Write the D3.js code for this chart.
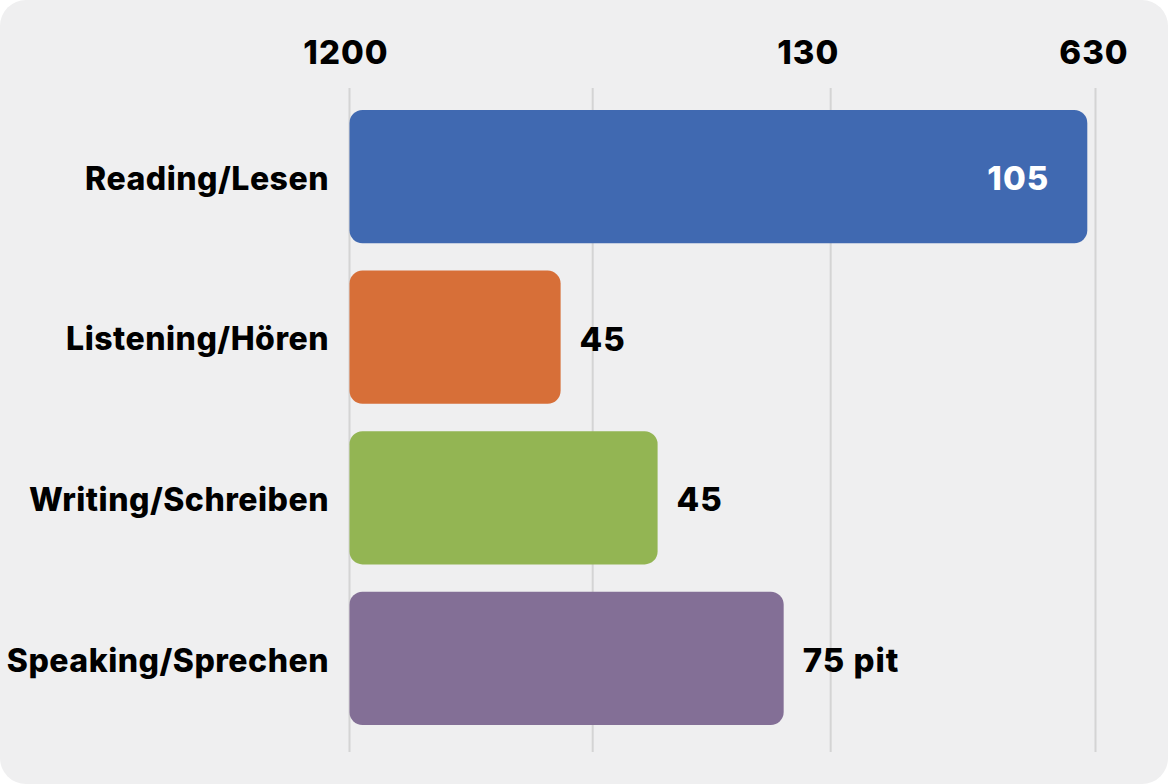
<!DOCTYPE html>
<html>
<head>
<meta charset="utf-8">
<script src="https://cdn.jsdelivr.net/npm/d3@7"></script>
<style>
  html, body { margin: 0; padding: 0; background: #fff; }
  svg { display: block; }
  text { font-family: Inter, sans-serif; font-weight: 800; fill: #000; letter-spacing: 0.5px; }
</style>
</head>
<body>
<div class="chart"></div>
<script>
const categories = ['Reading/Lesen', 'Listening/Hören', 'Writing/Schreiben', 'Speaking/Sprechen'];
// bar lengths, in percent of the axis span
const barLengths = [98.9, 28.3, 41.3, 58.2];
const barLabels  = ['105', '45', '45', '75 pit'];
const barColors  = ['#4069b1', '#d76f38', '#93b553', '#836f96'];
const tickValues = [0, 32.6, 64.5, 100];
const tickLabels = ['1200', '', '130', '630'];

const width    = 1168;
const height   = 784;
const fontSize = '32px';
const bigFont  = '33px';
// the tick labels do not sit centred over their gridlines
const tickShift = [-4, 0, -23, -2];

const svg = d3.select('.chart').append('svg')
  .attr('width', width)
  .attr('height', height);

svg.append('rect')
  .attr('width', width)
  .attr('height', height)
  .attr('rx', 26)
  .attr('fill', '#efeff0');

const x = d3.scaleLinear().domain([0, 100]).range([349.5, 1095.5]);
const y = d3.scaleBand().domain(categories).range([110, 725]).paddingInner(0.17);

const axis = svg.append('g')
  .attr('transform', 'translate(0,88)')
  .call(d3.axisTop(x).tickValues(tickValues).tickSize(0).tickPadding(24).tickFormat((d, i) => tickLabels[i]));

axis.select('.domain').remove();
axis.selectAll('text')
  .attr('dx', (d, i) => tickShift[i])
  .style('font-size', bigFont)
  .style('letter-spacing', '1px');

svg.append('g').selectAll('line')
  .data(tickValues)
  .enter().append('line')
  .attr('x1', d => x(d))
  .attr('x2', d => x(d))
  .attr('y1', 88)
  .attr('y2', 752)
  .attr('stroke', '#d4d4d4')
  .attr('stroke-width', 2);

svg.append('g').selectAll('rect')
  .data(categories)
  .enter().append('rect')
  .attr('x', x(0))
  .attr('y', d => y(d))
  .attr('width', (d, i) => x(barLengths[i]) - x(0))
  .attr('height', y.bandwidth())
  .attr('rx', 13)
  .attr('fill', (d, i) => barColors[i]);

svg.append('g').selectAll('text')
  .data(categories)
  .enter().append('text')
  .attr('x', 329)
  .attr('y', d => y(d) + y.bandwidth() / 2 + 2)
  .attr('dy', '0.35em')
  .attr('text-anchor', 'end')
  .style('font-size', fontSize)
  .text(d => d);

// the first label sits inside its bar, the others just past the end
svg.append('g').selectAll('text')
  .data(categories)
  .enter().append('text')
  .attr('x', (d, i) => i === 0 ? x(barLengths[i]) - 38 : x(barLengths[i]) + 19)
  .attr('y', d => y(d) + y.bandwidth() / 2 + 2)
  .attr('dy', '0.35em')
  .attr('text-anchor', (d, i) => i === 0 ? 'end' : 'start')
  .style('font-size', bigFont)
  .style('letter-spacing', '1px')
  .style('fill', (d, i) => i === 0 ? '#fff' : '#000')
  .text((d, i) => barLabels[i]);
</script>
</body>
</html>
